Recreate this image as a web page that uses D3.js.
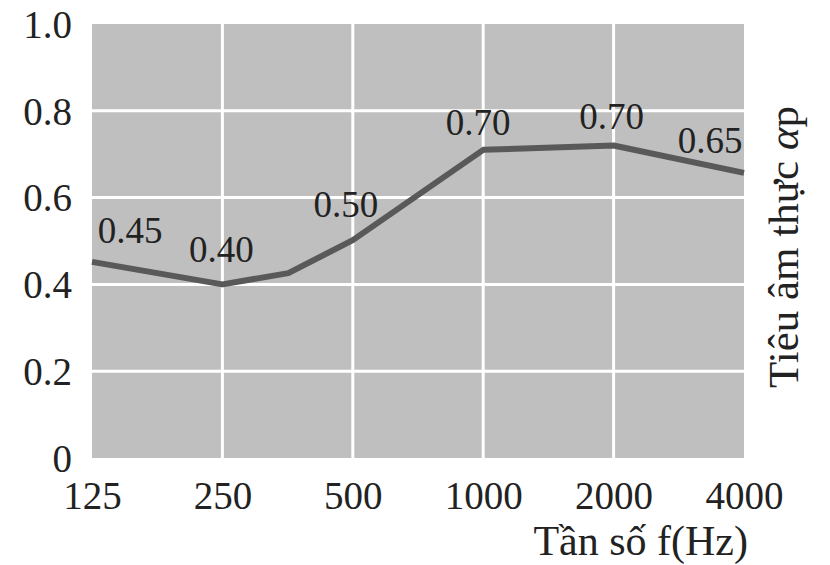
<!DOCTYPE html>
<html>
<head>
<meta charset="utf-8">
<script src="https://cdn.jsdelivr.net/npm/d3@7"></script>
<style>
  body { margin: 0; background: #fff; }
  text { font-family: "Liberation Serif", "DejaVu Serif", serif; fill: #222; }
</style>
</head>
<body>
<div id="chart"></div>
<script>
// frequency bands on the x axis (log scale, octave steps)
const freqTicks = [125, 250, 500, 1000, 2000, 4000]
const yTicks = [0, 0.2, 0.4, 0.6, 0.8, 1.0]

const freqs = [125, 250, 355, 500, 1000, 2000, 4000]
const alphaP = [0.452, 0.40, 0.426, 0.502, 0.71, 0.72, 0.657]

// printed value labels
const labelFreqs = [125, 250, 500, 1000, 2000, 4000]
const labelTexts = ["0.45", "0.40", "0.50", "0.70", "0.70", "0.65"]
const labelValues = [0.45, 0.40, 0.50, 0.70, 0.70, 0.65]

const width = 830
const height = 565
const margin = { top: 24, right: 86, bottom: 107, left: 92 }

const svg = d3.select("#chart")
    .append("svg")
    .attr("width", width)
    .attr("height", height)

const x = d3.scaleLog()
    .base(2)
    .domain([125, 4000])
    .range([margin.left, width - margin.right])

const y = d3.scaleLinear()
    .domain([0, 1])
    .range([height - margin.bottom, margin.top])

// grey plot panel
svg.append("rect")
    .attr("x", x(125))
    .attr("y", y(1))
    .attr("width", x(4000) - x(125))
    .attr("height", y(0) - y(1))
    .attr("fill", "#bfbfbf")

// white grid
svg.append("g")
    .selectAll("line")
    .data(yTicks.slice(1, -1))
    .join("line")
    .attr("x1", x(125))
    .attr("x2", x(4000))
    .attr("y1", d => y(d))
    .attr("y2", d => y(d))
    .attr("stroke", "#fff")
    .attr("stroke-width", 3)

svg.append("g")
    .selectAll("line")
    .data(freqTicks.slice(1, -1))
    .join("line")
    .attr("x1", d => x(d))
    .attr("x2", d => x(d))
    .attr("y1", y(1))
    .attr("y2", y(0))
    .attr("stroke", "#fff")
    .attr("stroke-width", 3)

// y axis labels
const yAxis = d3.axisLeft(y)
    .tickValues(yTicks)
    .tickSize(0)
    .tickPadding(20)
    .tickFormat(d => d === 0 ? "0" : d3.format(".1f")(d))

svg.append("g")
    .attr("transform", `translate(${margin.left},0)`)
    .call(yAxis)
    .call(g => g.select(".domain").remove())
    .selectAll("text")
    .attr("font-size", 39)
    .attr("font-family", "Liberation Serif, serif")
    .attr("fill", "#222")
    .attr("dy", "0.34em")

// x axis labels
const xAxis = d3.axisBottom(x)
    .tickValues(freqTicks)
    .tickSize(0)
    .tickPadding(23)
    .tickFormat(d3.format("d"))

svg.append("g")
    .attr("transform", `translate(0,${y(0)})`)
    .call(xAxis)
    .call(g => g.select(".domain").remove())
    .selectAll("text")
    .attr("font-size", 39)
    .attr("font-family", "Liberation Serif, serif")
    .attr("fill", "#222")
    .attr("dy", "0.71em")

// the curve
const line = d3.line()
    .x(d => x(d[0]))
    .y(d => y(d[1]))

svg.append("path")
    .datum(d3.zip(freqs, alphaP))
    .attr("d", line)
    .attr("fill", "none")
    .attr("stroke", "#595959")
    .attr("stroke-width", 6)
    .attr("stroke-linejoin", "round")

// value labels above the line
const labelDx = [38, -1, -7, -5, -2, -34]
const labelDy = [-20, -22, -24, -19, -25, -23]

svg.append("g")
    .selectAll("text")
    .data(labelFreqs)
    .join("text")
    .attr("x", (d, i) => x(d) + labelDx[i])
    .attr("y", (d, i) => y(labelValues[i]) + labelDy[i])
    .attr("text-anchor", "middle")
    .attr("font-size", 37)
    .text((d, i) => labelTexts[i])

// axis titles
svg.append("text")
    .attr("x", 748)
    .attr("y", 555)
    .attr("text-anchor", "end")
    .attr("font-size", 42)
    .text("Tần số f(Hz)")

const yTitle = svg.append("text")
    .attr("transform", "translate(798,247) rotate(-90)")
    .attr("text-anchor", "middle")
    .attr("font-size", 43)

yTitle.append("tspan").text("Tiêu âm thực ")
yTitle.append("tspan").attr("font-style", "italic").text("α")
yTitle.append("tspan").text("p")
</script>
</body>
</html>
